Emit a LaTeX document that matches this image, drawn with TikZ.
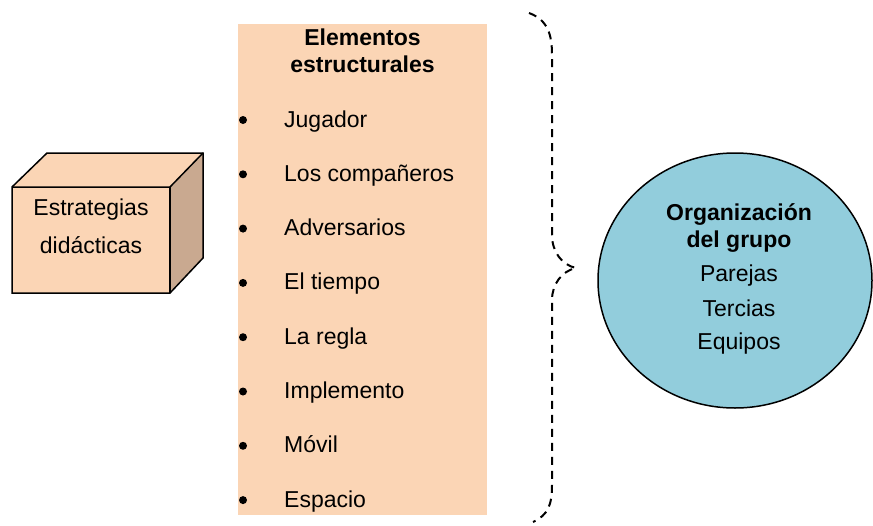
\documentclass[tikz,border=0pt]{standalone}
\usepackage{fontspec}
\setmainfont{Liberation Sans}
\usetikzlibrary{shapes.geometric}
\definecolor{peach}{HTML}{FBD5B5}
\definecolor{peachdark}{HTML}{C9A990}
\definecolor{lightblue}{HTML}{92CDDC}
\tikzset{
  txt/.style={inner sep=0pt, anchor=base, font=\fontsize{23}{27}\selectfont},
  btxt/.style={txt, font=\fontsize{23}{27}\selectfont\bfseries},
  itemtxt/.style={txt, anchor=base west},
  bulletdot/.style={circle, fill=black, inner sep=0pt, minimum size=8pt},
  bracepath/.style={draw=black, line width=2pt, dash pattern=on 8pt off 6pt},
  outline/.style={draw=black, line width=1.5pt},
}
\begin{document}
\begin{tikzpicture}[x=1pt, y=-1pt]
\useasboundingbox (0,0) rectangle (873,525);

% cube
\coordinate (fTL) at (12,187);
\coordinate (fTR) at (170,187);
\coordinate (fBR) at (170,293);
\coordinate (fBL) at (12,293);
\coordinate (bTL) at (47,153);
\coordinate (bTR) at (203,153);
\coordinate (bBR) at (203,258);
\fill[peach] (fTL) -- (bTL) -- (bTR) -- (fTR) -- cycle;
\fill[peachdark] (fTR) -- (bTR) -- (bBR) -- (fBR) -- cycle;
\fill[peach] (fTL) rectangle (fBR);
\draw[outline, line join=miter] (fBL) -- (fTL) -- (bTL) -- (bTR) -- (bBR) -- (fBR) -- cycle;
\draw[outline] (fTL) -- (fTR) -- (bTR);
\draw[outline] (fTR) -- (fBR);
\node[txt] (est1) at (91,215) {Estrategias};
\node[txt] (est2) at (91,253) {didácticas};

% elements column
\fill[peach] (238,24) rectangle (487,515);
\node[btxt] (el1) at (362.5,45) {Elementos};
\node[btxt] (el2) at (362.5,72) {estructurales};
\foreach \t [count=\i from 0] in {Jugador,Los compañeros,Adversarios,El tiempo,La regla,Implemento,Móvil,Espacio}{
  \node[bulletdot] (b\i) at (243,{127+54.3*\i-7}) {};
  \node[itemtxt] (it\i) at (284,{127+54.3*\i}) {\t};
}

% dashed brace
\draw[bracepath] (529,13) .. controls (548,20) and (552,35) .. (552,55)
  -- (552,235) .. controls (552,252) and (562,265) .. (576,268)
  .. controls (562,271) and (552,284) .. (552,300)
  -- (552,485) .. controls (552,505) and (548,515) .. (533,522);

% ellipse
\node[ellipse, outline, fill=lightblue, minimum width=274pt, minimum height=255pt, inner sep=0pt] (grupo) at (735,280.5) {};
\node[btxt] (g1) at (739,220) {Organización};
\node[btxt] (g2) at (739,247) {del grupo};
\node[txt] (g3) at (739,281) {Parejas};
\node[txt] (g4) at (739,316) {Tercias};
\node[txt] (g5) at (739,349) {Equipos};
\end{tikzpicture}
\end{document}
